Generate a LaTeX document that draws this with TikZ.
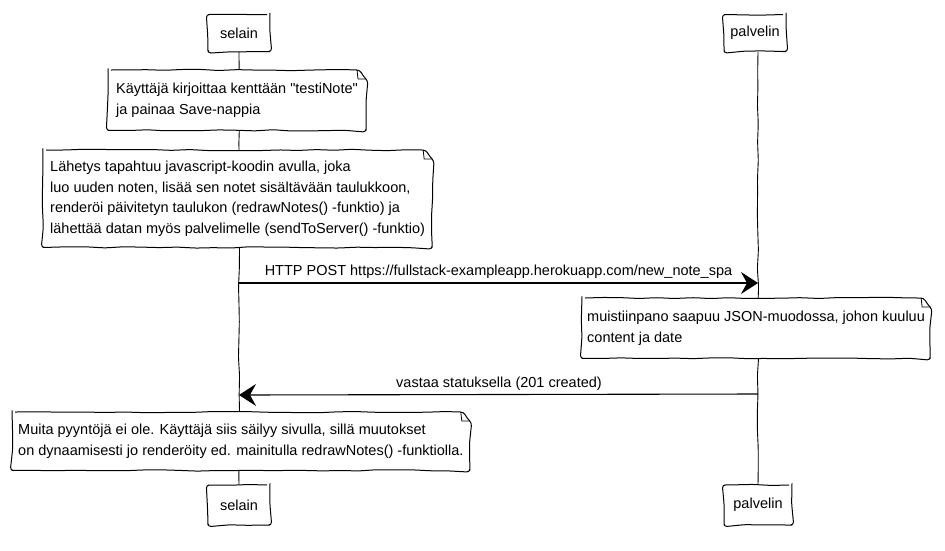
\documentclass[tikz,border=0pt]{standalone}
\usepackage{fontspec}
\setmainfont{Liberation Sans}[Ligatures=TeXOff]
\usetikzlibrary{arrows.meta,decorations.pathmorphing,backgrounds}

% outline of a note: rectangle with a folded top-right corner
\newcommand{\drawnote}[1]{%
  \path[noteline,rough] (#1.north west) -- ([xshift=-9pt]#1.north east)
      -- ([yshift=-9pt]#1.north east) -- (#1.south east) -- (#1.south west) -- cycle;
  \draw[line width=0.8pt,line join=round] ([xshift=-9pt]#1.north east)
      -- ([xshift=-8pt,yshift=-9pt]#1.north east) -- ([yshift=-9pt]#1.north east);
}

\begin{document}
\pgfmathsetseed{11}
\begin{tikzpicture}[x=1pt,y=-1pt,
  txt/.style={font=\fontsize{14.5pt}{20.6pt}\selectfont},
  rough/.style={decorate,decoration={random steps,segment length=18pt,amplitude=0.7pt},rounded corners=3pt},
  actor/.style={txt,draw,fill=white,line width=1pt,minimum width=62pt,minimum height=37pt,rough},
  note/.style={txt,align=left,anchor=north west,inner xsep=6pt,inner ysep=4pt},
  noteline/.style={draw,fill=white,line width=1pt,line join=round},
  life/.style={line width=0.9pt,rough},
  msg/.style={line width=1.1pt,-{Stealth[length=17pt,width=22pt,inset=6pt]}},
  lbl/.style={txt,inner sep=1pt}]

\useasboundingbox (0,0) rectangle (945,550);

% participants
\node[actor] (s1) at (239,33) {selain};
\node[actor] (p1) at (755,33) {palvelin};
\node[actor,minimum height=40pt] (s2) at (239,505) {selain};
\node[actor,minimum height=40pt,minimum width=68pt] (p2) at (758,505) {palvelin};

% notes
\node[note,inner xsep=8pt,minimum height=60pt] (n1) at (108,70)
  {Käyttäjä kirjoittaa kenttään "testiNote"\\ja painaa Save-nappia};
\node[note,inner xsep=7pt,minimum height=97pt] (n2) at (43,150)
  {Lähetys tapahtuu javascript-koodin avulla, joka\\
   luo uuden noten, lisää sen notet sisältävään taulukkoon,\\
   renderöi päivitetyn taulukon (redrawNotes() -funktio) ja\\
   lähettää datan myös palvelimelle (sendToServer() -funktio)};
\node[note,inner xsep=5pt,minimum height=60pt] (n3) at (582,298)
  {muistiinpano saapuu JSON-muodossa, johon kuuluu\\content ja date};
\node[note,inner xsep=6pt,minimum height=58pt] (n4) at (12,412)
  {Muita pyyntöjä ei ole. Käyttäjä siis säilyy sivulla, sillä muutokset\\
   on dynaamisesti jo renderöity ed. mainitulla redrawNotes() -funktiolla.};

% lifelines and note outlines sit behind the texts
\begin{pgfonlayer}{background}
  \draw[life] (s1.south) -- (s2.north);
  \draw[life] ([xshift=3pt]p1.south) -- (p2.north);
  \drawnote{n1}
  \drawnote{n2}
  \drawnote{n3}
  \drawnote{n4}
\end{pgfonlayer}

% messages
\coordinate (m1a) at (239,283);
\coordinate (m1b) at (758,283);
\draw[msg] (m1a) -- node[lbl,above=3pt] (l1)
  {HTTP POST https://fullstack-exampleapp.herokuapp.com/new\_note\_spa} (m1b);

\coordinate (m2a) at (758,394);
\coordinate (m2b) at (239,395);
\draw[msg] (m2a) -- (m2b);
\node[lbl] (l2) at (499,384) {vastaa statuksella (201 created)};

\end{tikzpicture}
\end{document}
